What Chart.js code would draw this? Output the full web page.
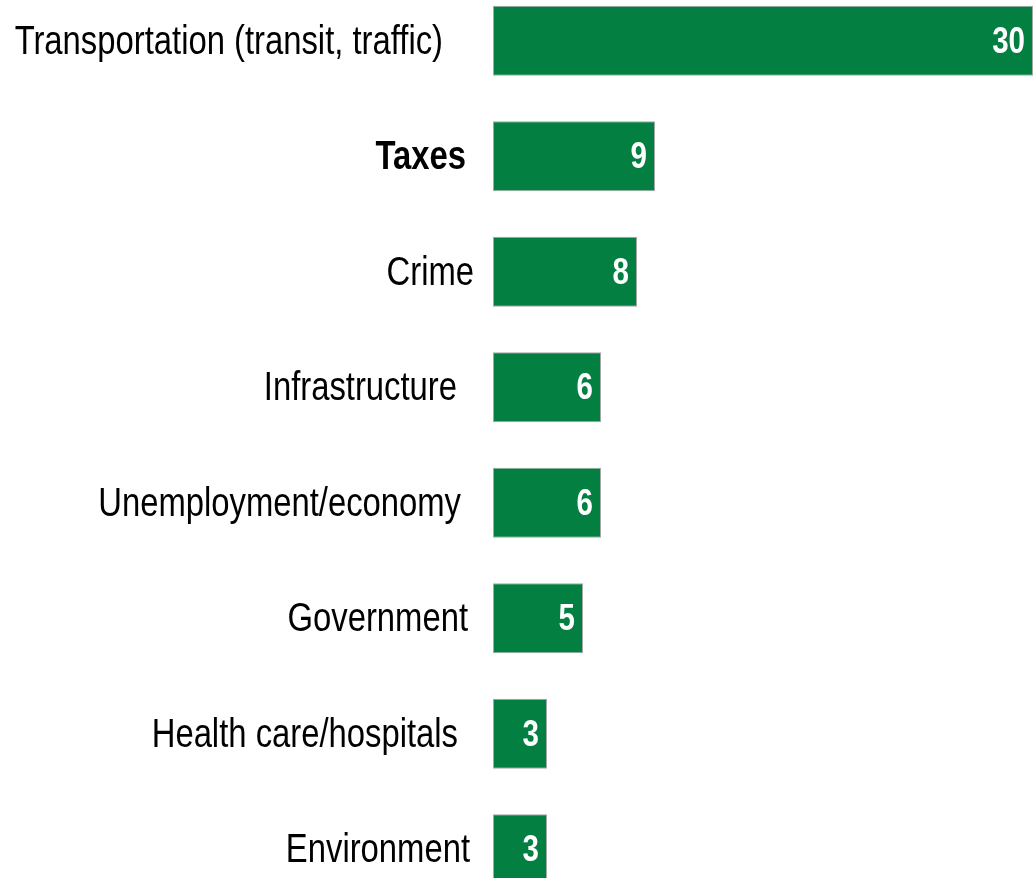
<!DOCTYPE html>
<html>
<head>
<meta charset="utf-8">
<title>Top issues</title>
<script src="https://cdn.jsdelivr.net/npm/chart.js@4.4.1/dist/chart.umd.min.js"></script>
<style>
  html, body { margin: 0; padding: 0; background: #fff; overflow: hidden; }
  body { width: 1033px; height: 878px; position: relative; }
  #wrap { position: absolute; left: 0; top: -17px; width: 1033px; height: 924px; }
</style>
</head>
<body>
<div id="wrap"><canvas id="issues" width="1033" height="924"></canvas></div>
<script>
const issues = [
  "Transportation (transit, traffic)",
  "Taxes",
  "Crime",
  "Infrastructure",
  "Unemployment/economy",
  "Government",
  "Health care/hospitals",
  "Environment",
];
const percents = [30, 9, 8, 6, 6, 5, 3, 3];
const boldIssue = "Taxes";

const FONT = "'Liberation Sans', Arial, sans-serif";
const SQUEEZE = 0.82; // narrow look, no condensed face installed
// space between each label and the bars (labels sit in loose text boxes)
const labelGaps = [50, 27, 19, 36, 32, 25, 35, 23];

// condensed text helper: scale x around the anchor point
function narrowText(ctx, text, x, y) {
  ctx.save();
  ctx.translate(x, y);
  ctx.scale(SQUEEZE, 1);
  ctx.fillText(text, 0, 0);
  ctx.restore();
}

// category names on the left, drawn by hand so they can be condensed
const issueLabels = {
  id: "issueLabels",
  afterDraw(chart) {
    const ctx = chart.ctx;
    const yScale = chart.scales.y;
    ctx.save();
    ctx.fillStyle = "#000000";
    ctx.textAlign = "right";
    ctx.textBaseline = "middle";
    issues.forEach((name, i) => {
      ctx.font = (name === boldIssue ? "bold " : "") + "40px " + FONT;
      narrowText(ctx, name, chart.chartArea.left - labelGaps[i], yScale.getPixelForTick(i) + 2);
    });
    ctx.restore();
  },
};

// white numbers sitting at the end of each bar
const barValues = {
  id: "barValues",
  afterDatasetsDraw(chart) {
    const ctx = chart.ctx;
    const meta = chart.getDatasetMeta(0);
    ctx.save();
    ctx.fillStyle = "#ffffff";
    ctx.font = "bold 36px " + FONT;
    ctx.textAlign = "right";
    ctx.textBaseline = "middle";
    meta.data.forEach((bar, i) => {
      narrowText(ctx, String(percents[i]), Math.min(bar.x - 8, chart.width - 3), bar.y + 2);
    });
    ctx.restore();
  },
};

new Chart(document.getElementById("issues"), {
  type: "bar",
  data: {
    labels: issues,
    datasets: [
      {
        data: percents,
        backgroundColor: "#037f41",
        borderColor: "#a6a6a6",
        borderWidth: 1,
        borderSkipped: false,
        barPercentage: 0.606,
        categoryPercentage: 1,
      },
    ],
  },
  options: {
    indexAxis: "y",
    responsive: false,
    animation: false,
    layout: { padding: 0 },
    plugins: {
      legend: { display: false },
      tooltip: { enabled: false },
    },
    scales: {
      x: {
        display: false,
        min: 0,
        max: 30,
      },
      y: {
        border: { display: false },
        grid: { display: false },
        ticks: { display: false },
        afterFit(scale) {
          scale.width = 493;
          scale.paddingTop = 0;
          scale.paddingBottom = 0;
        },
      },
    },
  },
  plugins: [barValues, issueLabels],
});
</script>
</body>
</html>
